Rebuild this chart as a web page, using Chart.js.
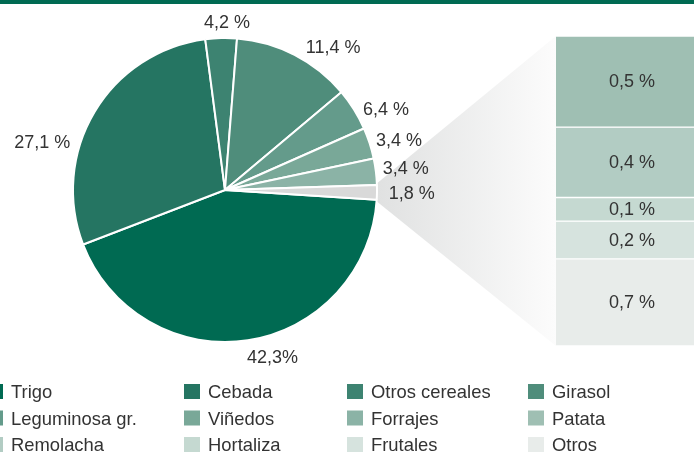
<!DOCTYPE html>
<html>
<head>
<meta charset="utf-8">
<script src="https://cdn.jsdelivr.net/npm/chart.js@4.4.0/dist/chart.umd.min.js"></script>
<style>
  html, body { margin: 0; padding: 0; background: #fff; overflow: hidden; }
  #wrap { position: relative; width: 694px; height: 452px; overflow: hidden; }
  #pieBox { position: absolute; left: 0; top: 0; width: 694px; height: 452px; }
  #barBox { position: absolute; left: 540px; top: 0; width: 168px; height: 452px; }
  #topLine { position: absolute; left: 0; top: 0; width: 694px; height: 4px; background: #006a52; }
</style>
</head>
<body>
<div id="wrap">
  <div id="pieBox"><canvas id="pieChart"></canvas></div>
  <div id="barBox"><canvas id="barChart"></canvas></div>
  <div id="topLine"></div>
</div>
<script>
      // legend entries
      const legendNames = [
        "Trigo", "Cebada", "Otros cereales", "Girasol",
        "Leguminosa gr.", "Viñedos", "Forrajes", "Patata",
        "Remolacha", "Hortaliza", "Frutales", "Otros",
      ];
      const legendColours = [
        "#006a52", "#257562", "#3d8371", "#4f8d7b",
        "#649b8b", "#79a898", "#8bb3a6", "#9fbfb3",
        "#b2ccc3", "#c5d9d1", "#d6e3de", "#e8ecea",
      ];

      // pie slices (share) + printed labels
      const pieNames = ["Trigo", "Cebada", "Otros cereales", "Girasol", "Leguminosa gr.", "Viñedos", "Forrajes", "Resto"];
      const pieShare = [43.1, 28.75, 3.33, 12.6, 4.5, 3.3, 2.8, 1.55];
      const pieLabels = ["42,3%", "27,1 %", "4,2 %", "11,4 %", "6,4 %", "3,4 %", "3,4 %", "1,8 %"];

      // breakdown of "Resto"
      const restNames = ["Patata", "Remolacha", "Hortaliza", "Frutales", "Otros"];
      const restShare = [0.455, 0.352, 0.118, 0.189, 0.435];
      const restLabels = ["0,5 %", "0,4 %", "0,1 %", "0,2 %", "0,7 %"];

      const restGrey = "#d9d9d9";
      const textColour = "#333333";
      const font = "18px 'Liberation Sans', Arial, sans-serif";
      const legendFont = "18.4px 'Liberation Sans', Arial, sans-serif";

      // label spots: bearing (deg from top, clockwise) and distance in radii
      const labelSpots = [
        [164.1, 1.142], [284.6, 1.243], [0.7, 1.105], [37.1, 1.18],
        [63.2, 1.187], [74.1, 1.19], [83.1, 1.198], [90.9, 1.229],
      ];

      // bar labels plugin
      const barLabels = {
        id: "barLabels",
        afterDatasetsDraw(chart) {
          const { ctx } = chart;
          ctx.save();
          ctx.font = font;
          ctx.fillStyle = textColour;
          ctx.textAlign = "center";
          ctx.textBaseline = "middle";
          chart.data.datasets.forEach((ds, i) => {
            const el = chart.getDatasetMeta(i).data[0];
            ctx.fillText(restLabels[i], el.x, (el.y + el.base) / 2 + 1);
          });
          ctx.restore();
        },
      };

      const barChart = new Chart(document.getElementById("barChart"), {
        type: "bar",
        data: {
          labels: ["Resto"],
          datasets: restNames.map((name, i) => ({
            label: name,
            data: [restShare[i]],
            backgroundColor: legendColours[7 + i],
            borderColor: "#ffffff",
            borderWidth: { top: 1, bottom: 1, left: 0, right: 0 },
            borderSkipped: false,
            barPercentage: 1,
            categoryPercentage: 1,
          })),
        },
        options: {
          responsive: true,
          maintainAspectRatio: false,
          animation: false,
          layout: { padding: { left: 16, right: 0, top: 36, bottom: 106 } },
          scales: {
            x: { display: false, stacked: true },
            y: {
              display: false,
              stacked: true,
              reverse: true,
              min: 0,
              max: restShare.reduce((a, b) => a + b, 0),
            },
          },
          plugins: { legend: { display: false }, tooltip: { enabled: false } },
        },
        plugins: [barLabels],
      });

      // funnel from the grey slice to the bar
      const funnel = {
        id: "funnel",
        beforeDatasetsDraw(chart) {
          const { ctx } = chart;
          const arc = chart.getDatasetMeta(0).data[7];
          const R = arc.outerRadius;
          const p1 = [arc.x + R * Math.cos(arc.startAngle), arc.y + R * Math.sin(arc.startAngle)];
          const p2 = [arc.x + R * Math.cos(arc.endAngle), arc.y + R * Math.sin(arc.endAngle)];
          const off = barChart.canvas.getBoundingClientRect().left - chart.canvas.getBoundingClientRect().left;
          const area = barChart.chartArea;
          const bx = off + area.left;
          ctx.save();
          const grad = ctx.createLinearGradient(p1[0], 0, bx, 0);
          grad.addColorStop(0, "#e0e1e1");
          grad.addColorStop(1, "#fcfcfc");
          ctx.fillStyle = grad;
          ctx.beginPath();
          ctx.moveTo(p1[0] - 2, p1[1]);
          ctx.lineTo(bx, area.top);
          ctx.lineTo(bx, area.bottom);
          ctx.lineTo(p2[0] - 2, p2[1]);
          ctx.closePath();
          ctx.fill();
          ctx.restore();
        },
      };

      // slice labels
      const sliceLabels = {
        id: "sliceLabels",
        afterDatasetsDraw(chart) {
          const { ctx } = chart;
          const arc0 = chart.getDatasetMeta(0).data[0];
          const cx = arc0.x, cy = arc0.y, R = arc0.outerRadius;
          ctx.save();
          ctx.font = font;
          ctx.fillStyle = textColour;
          ctx.textAlign = "center";
          ctx.textBaseline = "middle";
          pieLabels.forEach((txt, i) => {
            const a = (labelSpots[i][0] - 90) * Math.PI / 180;
            const d = labelSpots[i][1] * R;
            ctx.fillText(txt, cx + d * Math.cos(a), cy + d * Math.sin(a) + 1);
          });
          ctx.restore();
        },
      };

      // legend grid
      const gridLegend = {
        id: "gridLegend",
        afterDraw(chart) {
          const { ctx } = chart;
          const colX = [-13, 184, 347, 528];
          const rowY = [392, 418.5, 445];
          ctx.save();
          ctx.font = legendFont;
          ctx.textBaseline = "middle";
          ctx.textAlign = "left";
          legendNames.forEach((name, i) => {
            const x = colX[i % 4];
            const y = rowY[Math.floor(i / 4)];
            ctx.fillStyle = legendColours[i];
            ctx.fillRect(x, y - 8, 16, 15);
            ctx.fillStyle = textColour;
            ctx.fillText(name, x + 24, y + 1);
          });
          ctx.restore();
        },
      };

      const pieColours = legendColours.slice(0, 7).concat([restGrey]);

      const pieChart = new Chart(document.getElementById("pieChart"), {
        type: "pie",
        data: {
          labels: pieNames,
          datasets: [
            {
              data: pieShare,
              backgroundColor: pieColours,
              borderColor: "#ffffff",
              borderWidth: 2,
            },
          ],
        },
        options: {
          responsive: true,
          maintainAspectRatio: false,
          animation: false,
          rotation: 93.7,
          layout: { padding: { left: 72, top: 37, right: 316, bottom: 109 } },
          plugins: { legend: { display: false }, tooltip: { enabled: false } },
        },
        plugins: [funnel, sliceLabels, gridLegend],
      });
</script>
</body>
</html>
